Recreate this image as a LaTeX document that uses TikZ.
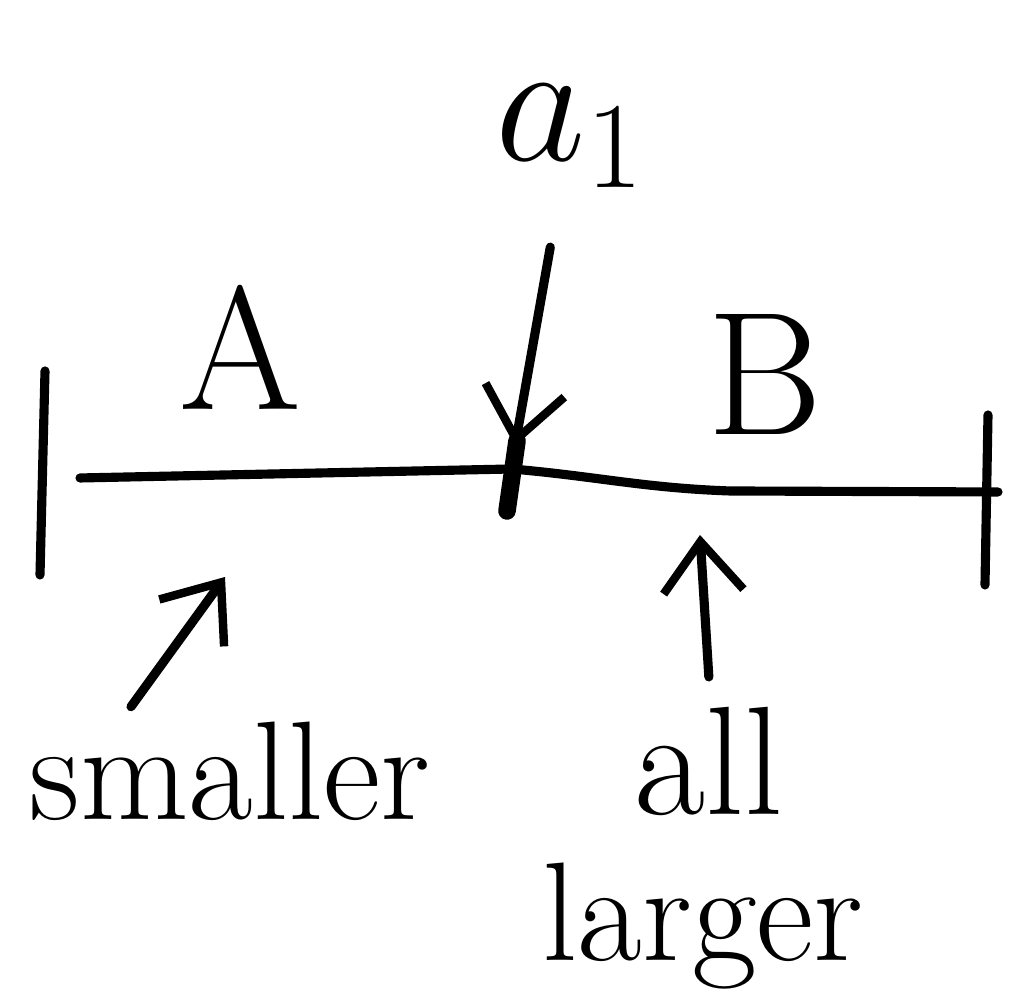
\documentclass[tikz,border=0pt]{standalone}
\usepackage{fix-cm}
\usetikzlibrary{arrows.meta}

\begin{document}
\begin{tikzpicture}[
    segment/.style={line width=2.6pt, line cap=round},
    endtick/.style={line width=2.6pt, line cap=round},
    pointer/.style={-{Straight Barb[length=5mm, width=8mm, line width=2.4pt]}, line width=2.6pt, line cap=round},
    word/.style={inner sep=0pt, font=\fontsize{#1}{#1}\selectfont}
]
\useasboundingbox (0,0) rectangle (10.18,9.91);

%% ---- the array as a line ----
\coordinate (leftend) at (0.8,5.13);
\coordinate (pivot) at (5.12,5.22);
\coordinate (bend) at (7.3,5.0);
\coordinate (rightend) at (9.98,4.99);
\draw[segment] (leftend) -- (pivot) to[out=-5,in=178] (bend) -- (rightend);

% end ticks and pivot mark
\draw[endtick] (0.45,6.2) -- (0.40,4.16);
\draw[endtick] (9.88,5.76) -- (9.85,4.06);
\draw[line width=5pt, line cap=round] (5.17,5.5) -- (5.07,4.8);

%% ---- labels ----
\node[word=50pt, anchor=base west] (pivotlabel) at (4.95,8.3) {$a_1$};
\node[word=50pt, anchor=base] (partA) at (2.4,5.81) {A};
\node[word=50pt, anchor=base] (partB) at (7.65,5.56) {B};
\node[word=40pt, anchor=base west] (smaller) at (0.29,1.71) {smaller};
\node[word=44pt, anchor=base west] (all) at (6.34,1.76) {all};
\node[word=40pt, anchor=base west] (larger) at (5.42,0.3) {larger};

%% ---- pointers ----
\coordinate (pivottip) at (5.15,5.45);
\coordinate (smallertip) at (2.25,4.14);
\coordinate (largertip) at (7.0,4.56);
\draw[pointer, shorten <=6mm] (pivotlabel) -- (pivottip);
\draw[pointer] ([shift={(1.02,0.15)}]smaller.north west) -- (smallertip);
\draw[pointer] ([yshift=0.3cm]all.north) -- (largertip);

\end{tikzpicture}
\end{document}
